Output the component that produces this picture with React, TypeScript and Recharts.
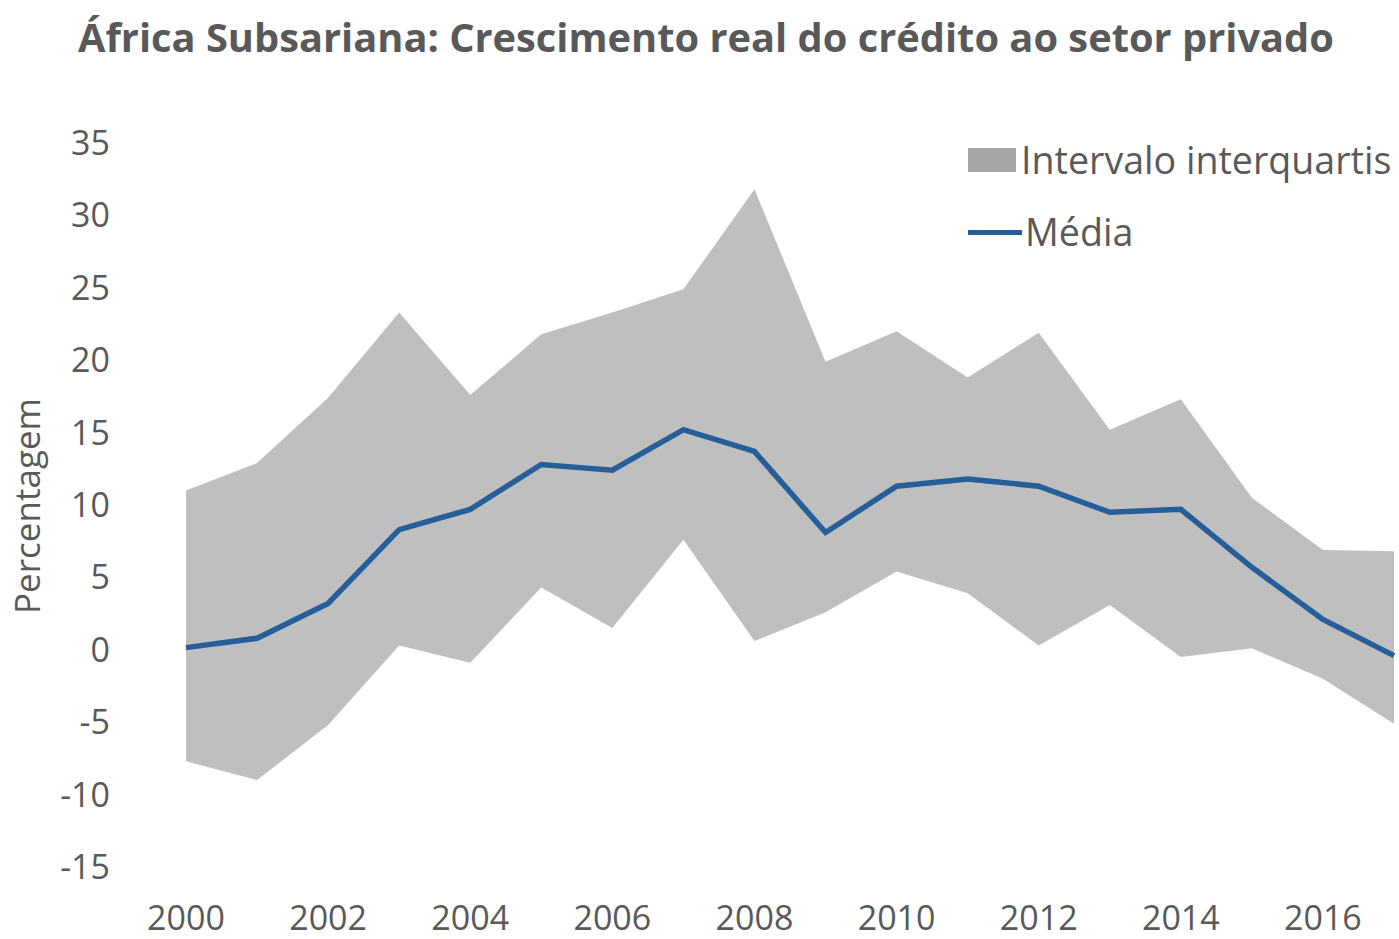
import { Area, ComposedChart, Line, XAxis, YAxis } from "recharts";

const years = [2000, 2001, 2002, 2003, 2004, 2005, 2006, 2007, 2008, 2009, 2010, 2011, 2012, 2013, 2014, 2015, 2016, 2017];
const upperQuartile = [11.0, 12.9, 17.4, 23.3, 17.6, 21.8, 23.3, 24.9, 31.8, 19.9, 22.0, 18.8, 21.9, 15.2, 17.3, 10.5, 6.9, 6.8];
const lowerQuartile = [-7.7, -9.0, -5.2, 0.3, -0.9, 4.3, 1.5, 7.6, 0.6, 2.6, 5.4, 3.9, 0.3, 3.1, -0.5, 0.1, -2.0, -5.1];
const meanGrowth = [0.15, 0.8, 3.2, 8.3, 9.7, 12.8, 12.4, 15.2, 13.7, 8.1, 11.3, 11.8, 11.3, 9.5, 9.7, 5.7, 2.1, -0.4];
const yTicks = [-15, -10, -5, 0, 5, 10, 15, 20, 25, 30, 35];
const xTicks = [2000, 2002, 2004, 2006, 2008, 2010, 2012, 2014, 2016];

const BAND = "#bfbfbf";
const LINE = "#255e99";
const TEXT = "#595959";
const FONT = "'Open Sans', 'Noto Sans', sans-serif";

const data = years.map((year, i) => ({
  year,
  band: [lowerQuartile[i], upperQuartile[i]],
  mean: meanGrowth[i],
}));

const tickStyle = { fontSize: 34, fill: TEXT, fontFamily: FONT };

function YTitle() {
  return (
    <text
      x={40}
      y={506}
      transform="rotate(-90 40 506)"
      textAnchor="middle"
      fontSize={35}
      fill={TEXT}
      fontFamily={FONT}
    >
      Percentagem
    </text>
  );
}

export default function App() {
  return (
    <div style={{ position: "relative", width: 1399, height: 939, fontFamily: FONT, color: TEXT }}>
      <style>{`body{margin:0}`}</style>
      <div
        style={{
          position: "absolute",
          left: 78,
          top: 9,
          fontSize: 39.8,
          fontWeight: 700,
          whiteSpace: "nowrap",
        }}
      >
        África Subsariana: Crescimento real do crédito ao setor privado
      </div>
      <ComposedChart
        width={1399}
        height={939}
        data={data}
        margin={{ top: 143, right: 5, bottom: 0, left: 0 }}
      >
        <XAxis
          dataKey="year"
          type="number"
          domain={[2000, 2017]}
          ticks={xTicks}
          axisLine={false}
          tickLine={false}
          height={72}
          tickMargin={33}
          tick={tickStyle}
          interval={0}
        />
        <YAxis
          type="number"
          domain={[-15, 35]}
          ticks={yTicks}
          axisLine={false}
          tickLine={false}
          width={186}
          tickMargin={70}
          tick={tickStyle}
          interval={0}
          label={<YTitle />}
        />
        <Area
          dataKey="band"
          type="linear"
          stroke="none"
          fill={BAND}
          fillOpacity={1}
          isAnimationActive={false}
        />
        <Line
          dataKey="mean"
          type="linear"
          stroke={LINE}
          strokeWidth={5.5}
          dot={false}
          isAnimationActive={false}
        />
      </ComposedChart>
      <div style={{ position: "absolute", left: 968, top: 124, fontSize: 37.6, lineHeight: "72px" }}>
        <div style={{ display: "flex", alignItems: "center" }}>
          <span style={{ display: "inline-block", width: 48, height: 24, background: "#a6a6a6", marginRight: 5 }} />
          Intervalo interquartis
        </div>
        <div style={{ display: "flex", alignItems: "center" }}>
          <span style={{ display: "inline-block", width: 54, height: 5, background: LINE, marginRight: 3 }} />
          Média
        </div>
      </div>
    </div>
  );
}
